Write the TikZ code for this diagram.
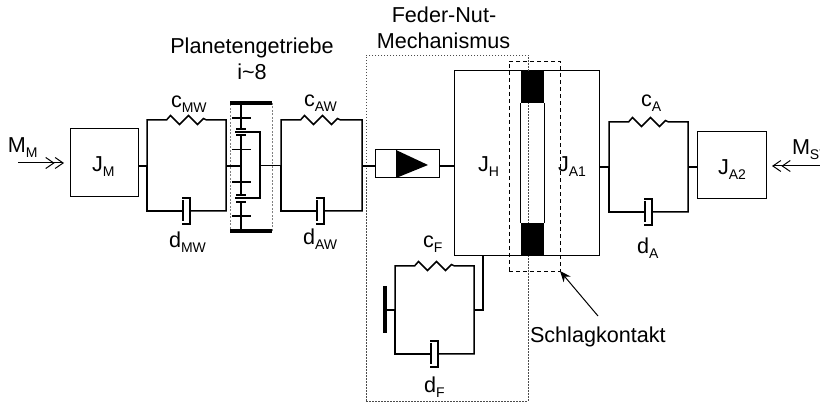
\documentclass[tikz,border=0pt]{standalone}
\usepackage{fontspec}
\setmainfont{Liberation Sans}
\usepackage{tikz}
\usetikzlibrary{arrows.meta}
\newcommand{\tief}[1]{\raisebox{-4.5pt}{\fontsize{14}{14}\selectfont #1}}
\tikzset{
    lbl/.style={anchor=base west, inner sep=0pt, outer sep=0pt, font=\fontsize{21.6}{26}\selectfont},
    kasten/.style={rectangle, draw, line width=1pt, inner sep=0pt, outer sep=0pt},
    link/.style={line width=1.5pt},
    balken/.style={line width=4pt},
    zahn/.style={line width=1.5pt},
    barb/.style={-{Straight Barb[length=8pt,width=11pt]Straight Barb[length=8pt,width=11pt]}, line width=1pt}
}
\begin{document}
\begin{tikzpicture}[x=1pt, y=-1pt]
    \useasboundingbox (0,0) rectangle (820,403);
    % Feder-Daempfer
    \foreach \n/\l/\r/\t/\b/\m in {MW/147/226/120/211/166, AW/281/362/120/211/166, A/609/688/122/212/167, F/395/474/266/354/310} {
        \coordinate (\n l) at (\l, \m);
        \coordinate (\n r) at (\r, \m);
        \draw [link] (\l, \m) -- (\l, \t) -- ++(19.5, 0) -- ++(4, -4.5) -- ++(9, 9) -- ++(9, -9) -- ++(9, 9) -- ++(6, -6) -- ++(3, 1.5) -- (\r, \t) -- (\r, \b) -- (\l+43, \b);
        \draw [link] (\l, \m) -- (\l, \b) -- (\l+36, \b);
        \draw [link] (\l+35, \b-13) -- (\l+43, \b-13) -- (\l+43, \b+13) -- (\l+35, \b+13);
        \draw [line width=2pt] (\l+36, \b-11) -- (\l+36, \b+10);
    }
    % Massen
    \node (JM) at (104, 163) [kasten, minimum width=68pt, minimum height=68pt] {};
    \node (JA2) at (731.5, 165.5) [kasten, minimum width=69pt, minimum height=67pt] {};
    \node (JH) at (526.5, 163.5) [kasten, minimum width=145pt, minimum height=185pt] {};
    \node (FN) at (407, 164) [kasten, minimum width=64pt, minimum height=28pt] {};
    \fill (396, 150) -- (428, 165) -- (396, 178) -- cycle;
    \draw [line width=1pt] (396, 150) -- (396, 178);
    % gestrichelte Rahmen
    \node (GR) at (251, 167) [draw=gray, dash pattern=on 2pt off 1.5pt, line width=0.9pt, inner sep=0pt, minimum width=42pt, minimum height=128pt] {};
    \node (FR) at (447, 228) [draw=black!70, dash pattern=on 1.5pt off 1.5pt, line width=0.8pt, inner sep=0pt, minimum width=162pt, minimum height=346pt] {};
    \node (SR) at (534.5, 166) [draw, dash pattern=on 4pt off 3pt, line width=0.9pt, inner sep=0pt, outer sep=0pt, minimum width=51pt, minimum height=210pt] {};
    % Schlagkontakt
    \node (S1) at (532.5, 87) [fill=black, inner sep=0pt, minimum width=23pt, minimum height=32pt] {};
    \node (S2) at (532.5, 239.5) [fill=black, inner sep=0pt, minimum width=23pt, minimum height=33pt] {};
    \draw [line width=1pt] (S1.south west) -- (S2.north west);
    \draw [line width=1pt] (S1.south east) -- (S2.north east);
    % Getriebe
    \coordinate (G1) at (241, 103);
    \coordinate (G2) at (241, 129);
    \coordinate (G3) at (241, 135);
    \coordinate (G4) at (241, 195);
    \coordinate (G5) at (241, 202);
    \coordinate (G6) at (241, 231);
    \coordinate (G7) at (260, 132);
    \coordinate (G8) at (260, 198);
    \draw [balken] (230, 103) -- (272, 103);
    \draw [balken] (230, 231) -- (272, 231);
    \draw [zahn] (G1) -- (G2);
    \draw [zahn] (G3) -- (G4);
    \draw [zahn] (G5) -- (G6);
    \draw [zahn] (235, 132) -- (G7) -- (G8) -- (235, 198);
    \foreach \y in {118, 149.5, 182, 216} {
        \draw [zahn] (232, \y) -- (251, \y);
    }
    \foreach \y in {129, 135, 195, 202} {
        \draw [zahn] (236, \y) -- (246, \y);
    }
    % Verbindungen
    \draw [link] (JM.east |- MWl) -- (MWl);
    \draw [link] (MWr) -- (241, 166);
    \draw [line width=1pt] (260, 166) -- (AWl);
    \draw [link] (AWr) -- (FN.west |- AWr);
    \draw [link] (FN.east |- AWr) -- (JH.west |- AWr);
    \draw [link] (JH.east |- Al) -- (Al);
    \draw [link] (Ar) -- (JA2.west |- Ar);
    \draw [link] (Fr) -- (483, 310) -- (483, 256);
    \draw [link] (Fl) -- (385, 310);
    \draw [balken] (385, 286) -- (385, 333);
    % Momente und Pfeil
    \coordinate (MMa) at (18, 163);
    \coordinate (MMb) at (64, 163);
    \coordinate (MSa) at (820, 166);
    \coordinate (MSb) at (772, 166);
    \draw [barb] (MMa) -- (MMb);
    \draw [barb] (MSa) -- (MSb);
    \node (SK) at (530, 343) [lbl] {Schlagkontakt};
    \draw [-{Stealth[length=11pt,width=9pt]}, line width=1pt] (598, 316) -- (SR.south east);
    % Beschriftung
    \node (tMM) at (8, 153) [lbl] {M\tief{M}};
    \node (tJM) at (92, 172) [lbl] {J\tief{M}};
    \node (tcMW) at (171, 108) [lbl] {c\tief{MW}};
    \node (tdMW) at (169, 248) [lbl] {d\tief{MW}};
    \node (tcAW) at (304, 107) [lbl] {c\tief{AW}};
    \node (tdAW) at (303, 245) [lbl] {d\tief{AW}};
    \node (tPG) at (252, 54) [lbl, anchor=base] {Planetengetriebe};
    \node (ti) at (252, 80) [lbl, anchor=base] {i\textasciitilde 8};
    \node (tFN) at (444, 23) [lbl, anchor=base] {Feder-Nut-};
    \node (tMe) at (443.5, 49) [lbl, anchor=base] {Mechanismus};
    \node (tJH) at (478, 172) [lbl] {J\tief{H}};
    \node (tJA1) at (558, 172) [lbl] {J\tief{A1}};
    \node (tcF) at (423, 248) [lbl] {c\tief{F}};
    \node (tdF) at (424, 393) [lbl] {d\tief{F}};
    \node (tcA) at (641, 107) [lbl] {c\tief{A}};
    \node (tdA) at (637, 254) [lbl] {d\tief{A}};
    \node (tJA2) at (718, 175) [lbl] {J\tief{A2}};
    \node (tMS) at (792, 155) [lbl] {M\tief{ST}};
\end{tikzpicture}
\end{document}
